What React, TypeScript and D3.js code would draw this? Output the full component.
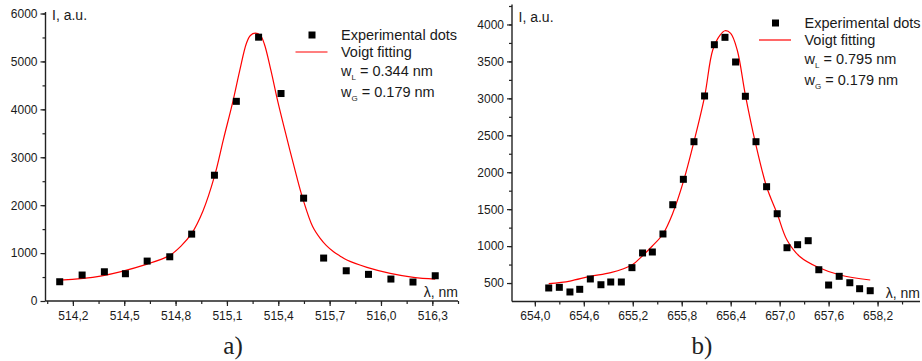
import React, { useEffect, useRef } from "react";
import * as d3 from "d3";

// panel a) — 515 nm line
const leftWavelength = [
  514.123, 514.254, 514.384, 514.507, 514.634, 514.766, 514.894, 515.027, 515.155,
  515.285, 515.416, 515.548, 515.665, 515.797, 515.927, 516.058, 516.187, 516.317,
];
const leftIntensity = [
  402, 542, 610, 569, 833, 923, 1396, 2625, 4167, 5506, 4330, 2146, 896, 631, 556, 458, 396, 527,
];
const leftFitWavelength = [
  514.123, 514.361, 514.634, 514.766, 514.83, 514.894, 514.96, 515.027, 515.08, 515.135,
  515.175, 515.213, 515.237, 515.266, 515.295, 515.318, 515.357, 515.397, 515.45, 515.505,
  515.543, 515.6, 515.645, 515.68, 515.723, 515.76, 515.801, 515.918, 516.054, 516.19, 516.317,
];
const leftFitIntensity = [
  437, 521, 771, 952, 1140, 1410, 1880, 2600, 3380, 4167, 4813, 5369, 5542, 5590, 5542, 5369,
  4813, 4167, 3400, 2631, 2140, 1560, 1306, 1160, 1027, 941, 854, 702, 577, 494, 458,
];
const leftXTicks = [514.2, 514.5, 514.8, 515.1, 515.4, 515.7, 516.0, 516.3];
const leftYTicks = [0, 1000, 2000, 3000, 4000, 5000, 6000];

// panel b) — H-alpha line
const rightWavelength = [
  654.17, 654.3, 654.43, 654.55, 654.68, 654.81, 654.93, 655.06, 655.19, 655.32, 655.44,
  655.57, 655.69, 655.82, 655.95, 656.08, 656.2, 656.33, 656.46, 656.58, 656.71, 656.84,
  656.97, 657.09, 657.22, 657.35, 657.48, 657.6, 657.73, 657.86, 657.98, 658.11,
];
const rightIntensity = [
  433, 442, 379, 415, 555, 477, 514, 514, 708, 907, 920, 1164, 1560, 1904, 2413, 3032, 3726,
  3826, 3492, 3028, 2413, 1804, 1438, 978, 1019, 1073, 680, 473, 591, 504, 423, 396,
];
const rightFitWavelength = [
  654.17, 654.43, 654.68, 654.93, 655.19, 655.32, 655.44, 655.57, 655.69, 655.82, 655.95,
  656.08, 656.18, 656.27, 656.33, 656.4, 656.48, 656.58, 656.7, 656.84, 656.97, 657.09,
  657.25, 657.47, 657.74, 658.11,
];
const rightFitIntensity = [
  491, 527, 591, 640, 744, 870, 1001, 1164, 1444, 1872, 2413, 3022, 3654, 3857, 3915, 3880,
  3654, 3045, 2413, 1804, 1438, 1083, 856, 713, 609, 541,
];
const rightXTicks = [654.0, 654.6, 655.2, 655.8, 656.4, 657.0, 657.6, 658.2];
const rightYTicks = [500, 1000, 1500, 2000, 2500, 3000, 3500, 4000];

const SANS = "'Liberation Sans', Arial, sans-serif";
const SERIF = "'Liberation Serif', 'Times New Roman', serif";

const drawPanel = (svg, p) => {
  const x = d3.scaleLinear().domain(p.xDomain).range(p.xRange);
  const y = d3.scaleLinear().domain(p.yDomain).range(p.yRange);
  const g = svg.append("g");

  const comma = (d) => d3.format(".1f")(d).replace(".", ",");

  // minor ticks (halfway between majors)
  const xStep = p.xTicks[1] - p.xTicks[0];
  const xMinor = d3
    .range(p.xTicks[0] - xStep, p.xTicks[p.xTicks.length - 1] + xStep * 1.01, xStep / 2)
    .filter((v) => v > p.xDomain[0] + 0.01 && v < p.xDomain[1]);
  const yStep = p.yTicks[1] - p.yTicks[0];
  const yMinor = d3
    .range(p.yDomain[0], p.yDomain[1] + 1, yStep / 2)
    .filter((v) => v > p.yDomain[0] && v <= p.yDomain[1]);

  const styleAxis = (sel) => {
    sel.select(".domain").remove();
    sel.selectAll("line").attr("stroke", "#222").attr("stroke-width", 1.2);
    sel
      .selectAll("text")
      .attr("fill", "#1a1a1a")
      .style("font-family", SANS)
      .style("font-size", "12px");
  };

  g.append("g")
    .attr("transform", `translate(0,${p.yRange[0]})`)
    .call(d3.axisBottom(x).tickValues(xMinor).tickSize(3).tickFormat(() => ""))
    .call(styleAxis);
  g.append("g")
    .attr("transform", `translate(0,${p.yRange[0]})`)
    .call(d3.axisBottom(x).tickValues(p.xTicks).tickSize(5).tickPadding(5).tickFormat(comma))
    .call(styleAxis);
  g.append("g")
    .attr("transform", `translate(${p.xRange[0]},0)`)
    .call(d3.axisLeft(y).tickValues(yMinor).tickSize(3).tickFormat(() => ""))
    .call(styleAxis);
  g.append("g")
    .attr("transform", `translate(${p.xRange[0]},0)`)
    .call(d3.axisLeft(y).tickValues(p.yTicks).tickSize(5).tickPadding(3).tickFormat(d3.format("d")))
    .call(styleAxis);

  // axis lines
  g.append("line")
    .attr("x1", p.xRange[0]).attr("x2", p.xRange[1])
    .attr("y1", p.yRange[0]).attr("y2", p.yRange[0])
    .attr("stroke", "#222").attr("stroke-width", 1.4);
  g.append("line")
    .attr("x1", p.xRange[0]).attr("x2", p.xRange[0])
    .attr("y1", p.yRange[0]).attr("y2", p.yRange[1] - 1.5)
    .attr("stroke", "#222").attr("stroke-width", 1.4);

  // fit curve
  const line = d3
    .line()
    .x((d) => x(d[0]))
    .y((d) => y(d[1]))
    .curve(d3.curveCatmullRom.alpha(0.5));
  g.append("path")
    .datum(p.fitX.map((v, i) => [v, p.fitY[i]]))
    .attr("d", line)
    .attr("fill", "none")
    .attr("stroke", "#ff0000")
    .attr("stroke-width", 1.2);

  // experimental dots
  g.selectAll(".dot")
    .data(p.dataX.map((v, i) => [v, p.dataY[i]]))
    .enter()
    .append("rect")
    .attr("class", "dot")
    .attr("x", (d) => x(d[0]) - 3.5)
    .attr("y", (d) => y(d[1]) - 3.5)
    .attr("width", 7)
    .attr("height", 7)
    .attr("fill", "#000");

  // axis titles
  g.append("text")
    .attr("x", p.xRange[0] + 6.5)
    .attr("y", p.yLabelY)
    .style("font-family", SANS)
    .style("font-size", "14px")
    .attr("fill", "#1a1a1a")
    .text("I, a.u.");
  g.append("text")
    .attr("x", p.xRange[1])
    .attr("y", p.yRange[0] - 4)
    .attr("text-anchor", "end")
    .style("font-family", SANS)
    .style("font-size", "14px")
    .attr("fill", "#1a1a1a")
    .text("λ, nm");

  // legend
  const lg = g.append("g").attr("transform", `translate(${p.legend[0]},${p.legend[1]})`);
  lg.append("rect").attr("x", -3).attr("y", -3).attr("width", 7).attr("height", 7).attr("fill", "#000");
  lg.append("line")
    .attr("x1", -16).attr("x2", 16)
    .attr("y1", 17.5).attr("y2", 17.5)
    .attr("stroke", "#ff0000").attr("stroke-width", 1.2);
  const rows = [
    { t: "Experimental dots", dy: 0 },
    { t: "Voigt fitting", dy: 17.5 },
  ];
  rows.forEach((r) => {
    lg.append("text")
      .attr("x", 29.5)
      .attr("y", r.dy + 5)
      .style("font-family", SANS)
      .style("font-size", "14.5px")
      .attr("fill", "#1a1a1a")
      .text(r.t);
  });
  const widths = [
    { sub: "L", val: p.wL, dy: 36.5 },
    { sub: "G", val: p.wG, dy: 57.5 },
  ];
  widths.forEach((r) => {
    const t = lg.append("text")
      .attr("x", 29.5)
      .attr("y", r.dy + 5)
      .style("font-family", SANS)
      .style("font-size", "14.5px")
      .attr("fill", "#1a1a1a");
    t.append("tspan").text("w");
    t.append("tspan").attr("dy", 4).style("font-size", "8px").text(r.sub);
    t.append("tspan").attr("dy", -4).text(` = ${r.val} nm`);
  });

  // panel letter
  svg.append("text")
    .attr("x", p.letterX)
    .attr("y", 354)
    .attr("text-anchor", "middle")
    .style("font-family", SERIF)
    .style("font-size", "25px")
    .attr("fill", "#222")
    .text(p.letter);
};

export default function App() {
  const ref = useRef<SVGSVGElement>(null);

  useEffect(() => {
    const svg = d3.select(ref.current);
    svg.selectAll("*").remove();

    drawPanel(svg, {
      xDomain: [514.04, 516.45],
      xRange: [45.5, 458],
      yDomain: [0, 6000],
      yRange: [301, 13.5],
      xTicks: leftXTicks,
      yTicks: leftYTicks,
      dataX: leftWavelength,
      dataY: leftIntensity,
      fitX: leftFitWavelength,
      fitY: leftFitIntensity,
      legend: [311.5, 34.5],
      wL: "0.344",
      wG: "0.179",
      yLabelY: 20,
      letter: "a)",
      letterX: 233,
    });

    drawPanel(svg, {
      xDomain: [653.72, 658.72],
      xRange: [512, 920],
      yDomain: [250, 4250],
      yRange: [301.5, 6],
      xTicks: rightXTicks,
      yTicks: rightYTicks,
      dataX: rightWavelength,
      dataY: rightIntensity,
      fitX: rightFitWavelength,
      fitY: rightFitIntensity,
      legend: [775, 22.5],
      wL: "0.795",
      wG: "0.179",
      yLabelY: 21.5,
      letter: "b)",
      letterX: 702,
    });
  }, []);

  return (
    <svg
      ref={ref}
      width={922}
      height={361}
      style={{ position: "absolute", left: 0, top: 0, background: "#fff" }}
    />
  );
}
